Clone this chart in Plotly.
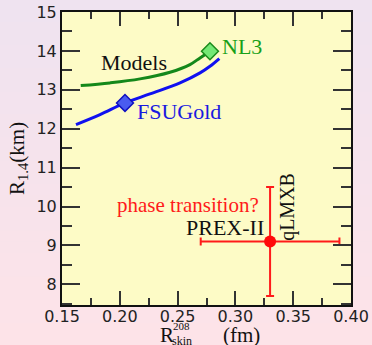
import plotly.graph_objects as go

# ---- data ----
nl3_x = [0.1662, 0.1915, 0.2175, 0.2434, 0.2607, 0.2694, 0.2780]
nl3_y = [13.109, 13.178, 13.281, 13.451, 13.649, 13.821, 13.991]
fsu_x = [0.1621, 0.1829, 0.2045, 0.2261, 0.2521, 0.2694, 0.2780, 0.2861]
fsu_y = [12.105, 12.362, 12.663, 12.895, 13.178, 13.435, 13.605, 13.803]
nl3_pt = (0.2780, 13.991)
fsu_pt = (0.2045, 12.663)
prex_x = [0.33]
prex_y = [9.1]
prex_xerr = [0.06]
qlmxb_yerr = [1.4]

SERIF = "Liberation Serif"
SANS = "DejaVu Sans"

fig = go.Figure()

fig.add_trace(go.Scatter(x=nl3_x, y=nl3_y, mode="lines",
                         line=dict(color="#14881a", width=3, shape="spline")))
fig.add_trace(go.Scatter(x=fsu_x, y=fsu_y, mode="lines",
                         line=dict(color="#1010f0", width=3, shape="spline")))
fig.add_trace(go.Scatter(x=[nl3_pt[0]], y=[nl3_pt[1]], mode="markers",
                         marker=dict(symbol="diamond", size=13, color="#74e874",
                                     line=dict(color="#1a8a1a", width=1.5))))
fig.add_trace(go.Scatter(x=[fsu_pt[0]], y=[fsu_pt[1]], mode="markers",
                         marker=dict(symbol="diamond", size=13, color="#4a5cf0",
                                     line=dict(color="#1010c0", width=1.5))))
fig.add_trace(go.Scatter(x=prex_x, y=prex_y, mode="markers",
                         marker=dict(symbol="circle", size=12, color="#ff0a0a"),
                         error_x=dict(type="data", array=prex_xerr, color="#ff1a1a",
                                      thickness=2, width=4),
                         error_y=dict(type="data", array=qlmxb_yerr, color="#ff1a1a",
                                      thickness=2, width=4)))

# background gradient (lavender top -> pink bottom)
shapes = []
n = 30
c_top = (239, 227, 240)
c_bot = (253, 227, 232)
y_lo, y_hi = -0.14, 1.045
for i in range(n):
    t = i / (n - 1)
    c = tuple(int(round(c_bot[k] + (c_top[k] - c_bot[k]) * t)) for k in range(3))
    y0 = y_lo + (y_hi - y_lo) * i / n
    y1 = y_lo + (y_hi - y_lo) * (i + 1) / n
    shapes.append(dict(type="rect", xref="paper", yref="paper", x0=-0.3, x1=1.2,
                       y0=y0, y1=y1 + 0.002, fillcolor="rgb(%d,%d,%d)" % c,
                       line=dict(width=0), layer="below"))
shapes.append(dict(type="rect", xref="paper", yref="paper", x0=0, x1=1, y0=0, y1=1,
                   fillcolor="#fdfbc6", line=dict(width=0), layer="below"))

annotations = [
    dict(x=0.2127, y=13.69, text="Models", font=dict(family=SERIF, size=22, color="#111111")),
    dict(x=0.3057, y=14.12, text="NL3", font=dict(family=SERIF, size=22, color="#18a018")),
    dict(x=0.2516, y=12.45, text="FSUGold", font=dict(family=SERIF, size=22, color="#1a1ae0")),
    dict(x=0.259, y=10.03, text="phase transition?", font=dict(family=SERIF, size=21, color="#ff1a1a")),
    dict(x=0.2907, y=9.47, text="PREX-II", font=dict(family=SERIF, size=22, color="#111111")),
    dict(x=0.3449, y=10.0, text="qLMXB", textangle=-90,
         font=dict(family=SERIF, size=20, color="#111111")),
]
for a in annotations:
    a.update(xref="x", yref="y", showarrow=False)

# axis titles
def px(xp):
    return (xp - 62) / 289.0

def py(yp):
    return (305 - yp) / 293.0

titles = [
    dict(x=px(166.5), y=py(334.5), text="R", font=dict(family=SERIF, size=21, color="#111111")),
    dict(x=px(181.5), y=py(326), text="208", font=dict(family=SERIF, size=11, color="#111111")),
    dict(x=px(182), y=py(341), text="skin", font=dict(family=SERIF, size=12, color="#111111")),
    dict(x=px(241), y=py(334.5), text="(fm)", font=dict(family=SERIF, size=21, color="#111111")),
    dict(x=px(18), y=py(159), text="R<sub>1.4</sub>(km)", textangle=-90,
         font=dict(family=SERIF, size=21, color="#111111")),
]
for a in titles:
    a.update(xref="paper", yref="paper", showarrow=False, xanchor="center", yanchor="middle")

annotations += titles

axis_common = dict(showline=True, linewidth=2, linecolor="#111111", mirror="allticks",
                   ticks="inside", tickwidth=2, tickcolor="#333333", showgrid=False,
                   zeroline=False, automargin=False,
                   tickfont=dict(family=SANS, size=16, color="#222222"))

fig.update_layout(
    width=372, height=345,
    margin=dict(l=62, r=21, t=12, b=40),
    paper_bgcolor="#f5e3ec",
    plot_bgcolor="#fdfbc6",
    showlegend=False,
    shapes=shapes,
    annotations=annotations,
    xaxis=dict(range=[0.15, 0.40], tick0=0.15, dtick=0.05, tickformat=".2f", ticklen=14,
               ticklabelstandoff=-4,
               minor=dict(dtick=0.025, ticklen=7, tickwidth=2, tickcolor="#333333", ticks="inside"),
               **axis_common),
    yaxis=dict(range=[7.47, 15], tick0=8, dtick=1, ticklen=18,
               minor=dict(dtick=0.5, ticklen=10, tickwidth=2, tickcolor="#333333", ticks="inside"),
               **axis_common),
)

fig.write_html("out.html", config={"displayModeBar": False},
               post_script="document.body.style.margin='0px';")
